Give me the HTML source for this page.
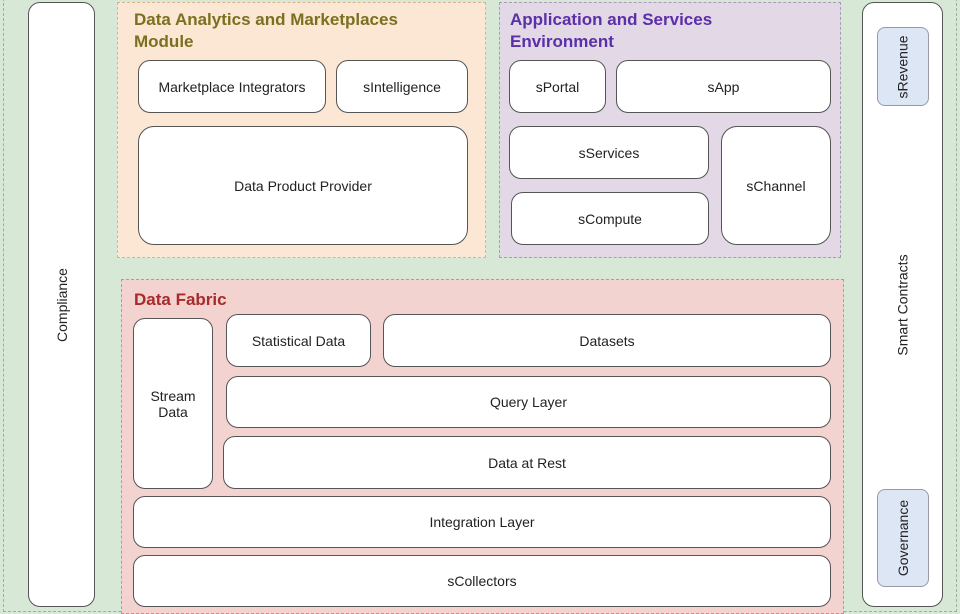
<!DOCTYPE html>
<html><head><style>
body{margin:0;width:960px;height:610px;background:#d8e8d6;position:relative;overflow:hidden;font-family:"Liberation Sans",sans-serif;}
.a{position:absolute;box-sizing:border-box;}
.b{position:absolute;box-sizing:border-box;background:#fff;border:1.5px solid #555;border-radius:12px;display:flex;align-items:center;justify-content:center;text-align:center;font-size:14px;color:#222;}
.g{position:absolute;box-sizing:border-box;border:1px dashed #999;}
.t{position:absolute;font-weight:bold;font-size:17px;line-height:22px;}
.v{transform:rotate(-90deg);white-space:nowrap;}
</style></head><body>
<div class="g" style="left:3px;top:-2px;width:954px;height:614px;border-color:#9bb09a"></div>
<div class="b" style="left:28px;top:2px;width:67px;height:605px"><span class="v">Compliance</span></div>
<div class="g" style="left:117px;top:2px;width:369px;height:256px;background:#fbe7d3;border-color:#d8b48d"></div>
<div class="t" style="left:134px;top:9px;color:#7a7020">Data Analytics and Marketplaces<br>Module</div>
<div class="g" style="left:499px;top:2px;width:342px;height:256px;background:#e2d8e6;border-color:#a99ab5"></div>
<div class="t" style="left:510px;top:9px;color:#5b2fa8">Application and Services<br>Environment</div>
<div class="g" style="left:121px;top:279px;width:723px;height:335px;background:#f3d3d0;border-color:#d08f8d"></div>
<div class="t" style="left:134px;top:289px;color:#a82a2a">Data Fabric</div>
<div class="b" style="left:862px;top:2px;width:81px;height:605px"><span class="v">Smart Contracts</span></div>
<div class="b" style="left:877px;top:27px;width:52px;height:79px;background:#dde6f5;border-color:#99a;border-width:1px;border-radius:8px"><span class="v">sRevenue</span></div>
<div class="b" style="left:877px;top:489px;width:52px;height:98px;background:#dde6f5;border-color:#99a;border-width:1px;border-radius:8px"><span class="v">Governance</span></div>
<div class="b" style="left:138px;top:60px;width:188px;height:53px">Marketplace Integrators</div>
<div class="b" style="left:336px;top:60px;width:132px;height:53px">sIntelligence</div>
<div class="b" style="left:138px;top:126px;width:330px;height:119px;border-radius:16px">Data Product Provider</div>
<div class="b" style="left:509px;top:60px;width:97px;height:53px">sPortal</div>
<div class="b" style="left:616px;top:60px;width:215px;height:53px">sApp</div>
<div class="b" style="left:509px;top:126px;width:200px;height:53px">sServices</div>
<div class="b" style="left:511px;top:192px;width:198px;height:53px">sCompute</div>
<div class="b" style="left:721px;top:126px;width:110px;height:119px;border-radius:16px">sChannel</div>
<div class="b" style="left:133px;top:318px;width:80px;height:171px">Stream<br>Data</div>
<div class="b" style="left:226px;top:314px;width:145px;height:53px">Statistical Data</div>
<div class="b" style="left:383px;top:314px;width:448px;height:53px">Datasets</div>
<div class="b" style="left:226px;top:376px;width:605px;height:52px">Query Layer</div>
<div class="b" style="left:223px;top:436px;width:608px;height:53px">Data at Rest</div>
<div class="b" style="left:133px;top:496px;width:698px;height:52px">Integration Layer</div>
<div class="b" style="left:133px;top:555px;width:698px;height:52px">sCollectors</div>
</body></html>
